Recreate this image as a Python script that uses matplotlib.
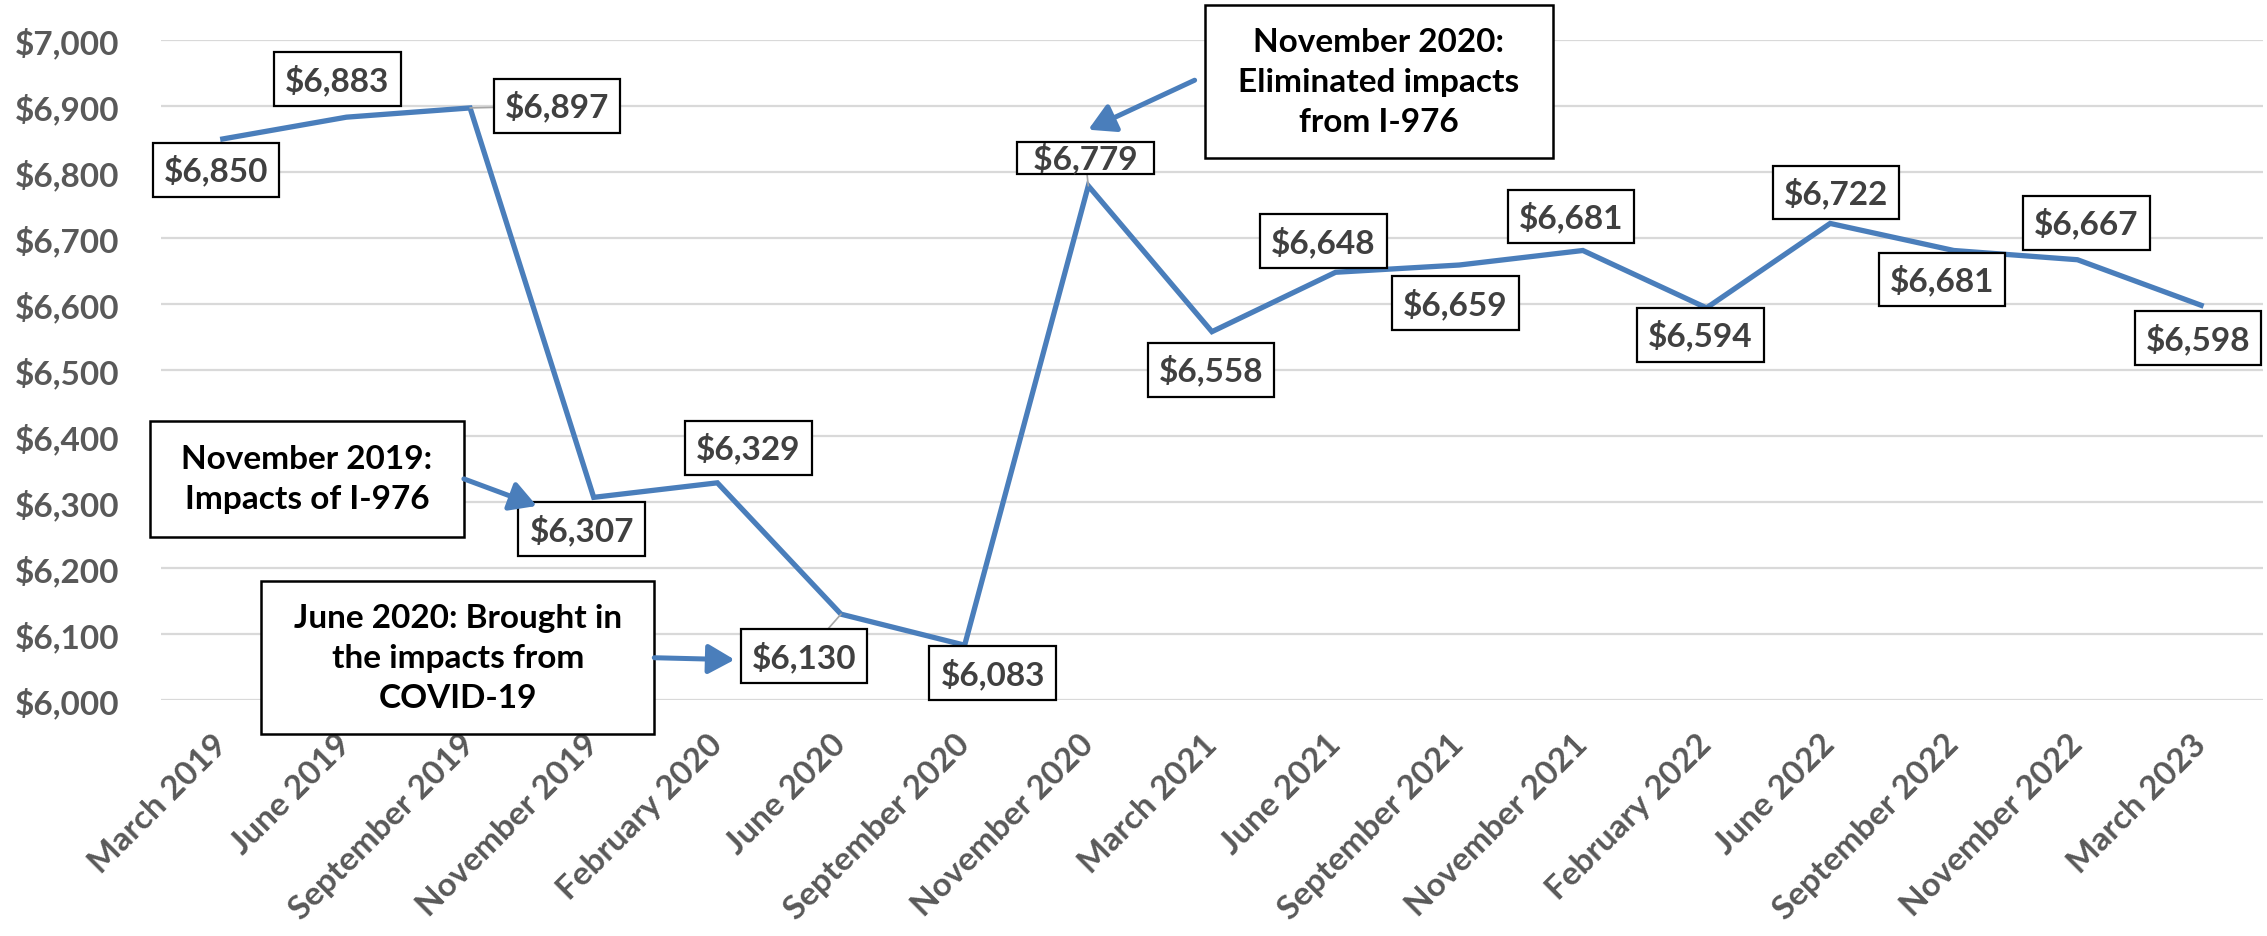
import numpy as np
import matplotlib
matplotlib.use("Agg")
import matplotlib.pyplot as plt
from matplotlib.patches import Rectangle
from matplotlib.ticker import FuncFormatter

# ── Data ───────────────────────────────────────────────────────────────────────
months = ['March 2019', 'June 2019', 'September 2019', 'November 2019',
          'February 2020', 'June 2020', 'September 2020', 'November 2020',
          'March 2021', 'June 2021', 'September 2021', 'November 2021',
          'February 2022', 'June 2022', 'September 2022', 'November 2022',
          'March 2023']
values = [6850, 6883, 6897, 6307, 6329, 6130, 6083, 6779, 6558,
          6648, 6659, 6681, 6594, 6722, 6681, 6667, 6598]
y_ticks = list(range(6000, 7001, 100))

notes = ['November 2019:\nImpacts of I-976',
         'June 2020: Brought in\nthe impacts from\nCOVID-19',
         'November 2020:\nEliminated impacts\nfrom I-976']

# ── Layout (label offsets in pixels, note boxes in data units) ─────────────────
label_offsets = [(-7, -31), (-9, 38), (87, 2), (-12, -32), (31, 35), (-37, -42),
                 (28, -28), (-3, 28), (-1, -38), (-12, 31), (-4, -38), (-12, 34),
                 (-6, -27), (6, 31), (-12, -29), (9, 37), (-3, -33)]
leader = {2, 5, 7}
note_boxes = [(0.68, 6335, 2.54, 176), (1.90, 6064, 3.18, 232), (9.35, 6937, 2.82, 232)]
note_arrows = [((1.95, 6335), (2.54, 6294)),
               ((3.49, 6064), (4.14, 6061)),
               ((7.86, 6939), (7.00, 6864))]

# ── Style ──────────────────────────────────────────────────────────────────────
plt.rcParams['font.family'] = ['Lato', 'DejaVu Sans']
BLUE = '#4a7ebb'
GREY = '#595959'
DARK = '#404040'
FS = 24

fig = plt.figure(figsize=(22.67, 9.37), dpi=100)
ax = fig.add_axes([0.0710, 0.2519, 0.9272, 0.7044])

x = np.arange(len(months))
ax.plot(x, values, color=BLUE, lw=3.8, solid_joinstyle='miter', zorder=3)

ax.set_xlim(-0.5, len(months) - 0.5)
ax.set_ylim(6000, 7000)
ax.set_yticks(y_ticks)
ax.yaxis.set_major_formatter(FuncFormatter(lambda v, p: f'${v:,.0f}'))
ax.set_xticks(x)
ax.set_xticklabels(months, rotation=45, ha='right', va='center',
                   rotation_mode='anchor')
ax.tick_params(axis='both', length=0, labelsize=FS, labelcolor=GREY)
ax.tick_params(axis='y', pad=30)
ax.tick_params(axis='x', pad=28)
for lab in ax.get_xticklabels() + ax.get_yticklabels():
    lab.set_fontweight('bold')
ax.grid(axis='y', color='#d9d9d9', lw=1.6, zorder=0)
for s in ax.spines.values():
    s.set_visible(False)

# data labels
for i, (v, (dx, dy)) in enumerate(zip(values, label_offsets)):
    small = (i == 7)
    txt = f'  ${v:,}  ' if small else f'${v:,}'
    ap = dict(arrowstyle='-', color='#a6a6a6', lw=1.2, shrinkA=0, shrinkB=0) if i in leader else None
    ax.annotate(txt, xy=(i, v), xytext=(dx, dy), textcoords='offset pixels',
                ha='center', va='center', fontsize=FS, fontweight='bold', color=DARK,
                bbox=dict(boxstyle='square,pad=%s' % (0.0 if small else 0.33),
                          fc='white', ec='black', lw=1.6),
                arrowprops=ap, zorder=5, annotation_clip=False)

# callout boxes
for (xc, yc, w, h), note in zip(note_boxes, notes):
    ax.add_patch(Rectangle((xc - w / 2, yc - h / 2), w, h, fc='white', ec='black',
                           lw=1.8, clip_on=False, zorder=6))
    ax.text(xc, yc, note, ha='center', va='center', fontsize=FS, fontweight='bold',
            color='black', linespacing=1.45, zorder=7, clip_on=False)

for tail, tip in note_arrows:
    ax.annotate('', xy=tip, xytext=tail,
                arrowprops=dict(arrowstyle='-|>,head_length=0.8,head_width=0.45',
                                color=BLUE, lw=3.6, shrinkA=0, shrinkB=0,
                                mutation_scale=20),
                zorder=6, annotation_clip=False)

fig.savefig('out.png', dpi=100)
